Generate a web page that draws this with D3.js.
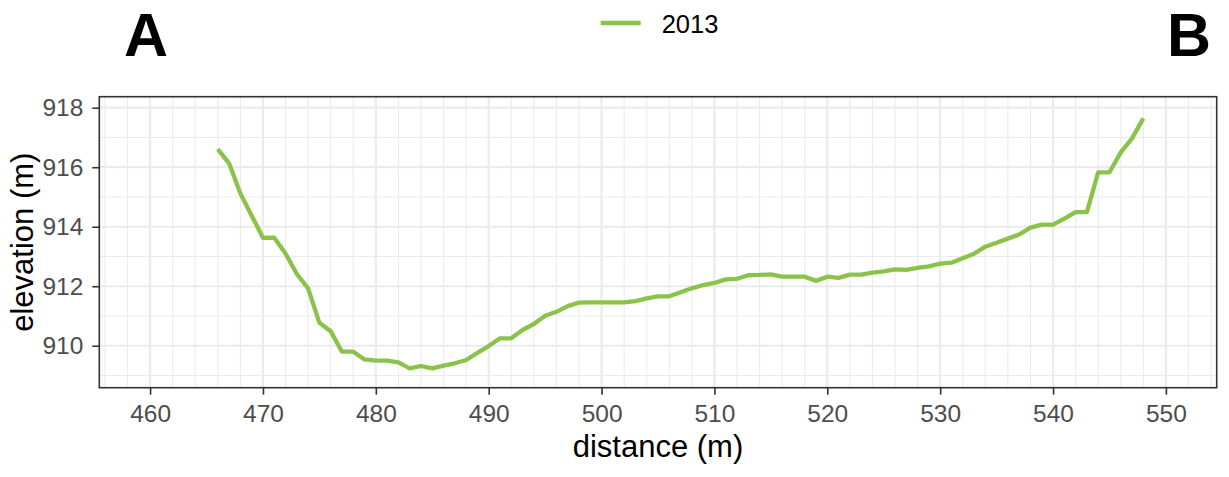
<!DOCTYPE html>
<html>
<head>
<meta charset="utf-8">
<script src="https://cdn.jsdelivr.net/npm/d3@7"></script>
<style>
  html, body { margin: 0; padding: 0; background: #fff; }
  svg { display: block; }
</style>
</head>
<body>
<svg id="chart" width="1229" height="477"></svg>
<script>
// ---- data ----
const seriesName = "2013";
const distance = [466,467,468,469,470,471,472,473,474,475,476,477,478,479,480,481,482,483,484,485,
  486,487,488,489,490,491,492,493,494,495,496,497,498,499,500,501,502,503,504,505,
  506,507,508,509,510,511,512,513,514,515,516,517,518,519,520,521,522,523,524,525,
  526,527,528,529,530,531,532,533,534,535,536,537,538,539,540,541,542,543,544,545,
  546,547,548];
const elevation = [916.61,916.13,915.12,914.37,913.63,913.63,913.10,912.41,911.93,910.77,
  910.49,909.80,909.80,909.54,909.50,909.50,909.44,909.24,909.32,909.24,
  909.33,909.41,909.52,909.76,909.99,910.25,910.25,910.53,910.73,911.01,
  911.14,911.33,911.45,911.46,911.46,911.46,911.46,911.50,911.59,911.66,
  911.66,911.80,911.93,912.04,912.11,912.23,912.25,912.37,912.38,912.40,
  912.32,912.32,912.32,912.18,912.32,912.28,912.39,912.39,912.46,912.50,
  912.57,912.55,912.62,912.67,912.76,912.79,912.94,913.09,913.33,913.46,
  913.60,913.74,913.97,914.07,914.07,914.27,914.49,914.49,915.83,915.83,
  916.50,916.97,917.64];
const xTicks = [460,470,480,490,500,510,520,530,540,550];
const xMinor = [456,458,462,464,466,468,472,474,476,478,482,484,486,488,492,494,496,498,
  502,504,506,508,512,514,516,518,522,524,526,528,532,534,536,538,542,544,546,548,552,554];
const yTicks = [910,912,914,916,918];
const yMinor = [909,911,913,915,917];
const xDomain = [455.5, 554.5];
const yDomain = [908.59, 918.37];
const xTitle = "distance (m)";
const yTitle = "elevation (m)";
const cornerLabels = ["A", "B"];

// ---- layout ----
const panel = { left: 99.3, right: 1216.7, top: 96.7, bottom: 387.7 };
const lineColor = "#8bc34a";
const font = "'Liberation Sans', Arial, sans-serif";

const svg = d3.select("#chart");
const x = d3.scaleLinear().domain(xDomain).range([panel.left, panel.right]);
const y = d3.scaleLinear().domain(yDomain).range([panel.bottom, panel.top]);

// panel background
svg.append("rect")
  .attr("x", panel.left).attr("y", panel.top)
  .attr("width", panel.right - panel.left).attr("height", panel.bottom - panel.top)
  .attr("fill", "#fff");

const grid = svg.append("g");
// minor grid
grid.selectAll("line.xmin").data(xMinor).join("line")
  .attr("x1", d => x(d)).attr("x2", d => x(d))
  .attr("y1", panel.top).attr("y2", panel.bottom)
  .attr("stroke", "#ebebeb").attr("stroke-width", 1.1);
grid.selectAll("line.ymin").data(yMinor).join("line")
  .attr("y1", d => y(d)).attr("y2", d => y(d))
  .attr("x1", panel.left).attr("x2", panel.right)
  .attr("stroke", "#ebebeb").attr("stroke-width", 1.1);
// major grid
grid.selectAll("line.xmaj").data(xTicks).join("line")
  .attr("x1", d => x(d)).attr("x2", d => x(d))
  .attr("y1", panel.top).attr("y2", panel.bottom)
  .attr("stroke", "#ebebeb").attr("stroke-width", 2.2);
grid.selectAll("line.ymaj").data(yTicks).join("line")
  .attr("y1", d => y(d)).attr("y2", d => y(d))
  .attr("x1", panel.left).attr("x2", panel.right)
  .attr("stroke", "#ebebeb").attr("stroke-width", 2.2);

// line
const pts = distance.map((d, i) => [d, elevation[i]]);
svg.append("path")
  .datum(pts)
  .attr("fill", "none")
  .attr("stroke", lineColor)
  .attr("stroke-width", 4.3)
  .attr("stroke-linejoin", "round")
  .attr("d", d3.line().x(d => x(d[0])).y(d => y(d[1])));

// panel border
svg.append("rect")
  .attr("x", panel.left).attr("y", panel.top)
  .attr("width", panel.right - panel.left).attr("height", panel.bottom - panel.top)
  .attr("fill", "none").attr("stroke", "#333").attr("stroke-width", 1.6);

// axes
const xAxis = svg.append("g")
  .attr("transform", `translate(0,${panel.bottom})`)
  .call(d3.axisBottom(x).tickValues(xTicks).tickSize(7).tickSizeOuter(0).tickPadding(10.2));
const yAxis = svg.append("g")
  .attr("transform", `translate(${panel.left},0)`)
  .call(d3.axisLeft(y).tickValues(yTicks).tickFormat(d3.format("d")).tickSize(7).tickSizeOuter(0).tickPadding(9));
[xAxis, yAxis].forEach(a => {
  a.select(".domain").remove();
  a.selectAll(".tick line").attr("stroke", "#333").attr("stroke-width", 1.6);
  a.selectAll(".tick text").attr("fill", "#4d4d4d")
    .style("font-family", font).style("font-size", "24.5px");
});

// axis titles
svg.append("text")
  .attr("x", (panel.left + panel.right) / 2).attr("y", 457.3)
  .attr("text-anchor", "middle")
  .style("font-family", font).style("font-size", "31px").attr("fill", "#000")
  .text(xTitle);
svg.append("text")
  .attr("transform", `translate(33.3,${(panel.top + panel.bottom) / 2}) rotate(-90)`)
  .attr("text-anchor", "middle")
  .style("font-family", font).style("font-size", "31px").attr("fill", "#000")
  .text(yTitle);

// legend
const legend = svg.append("g");
legend.append("line")
  .attr("x1", 600.7).attr("x2", 640.7).attr("y1", 23).attr("y2", 23)
  .attr("stroke", lineColor).attr("stroke-width", 4.5);
legend.append("text")
  .attr("x", 661.7).attr("y", 33.3)
  .style("font-family", font).style("font-size", "25.5px").attr("fill", "#000")
  .text(seriesName);

// corner labels
svg.append("text")
  .attr("x", 124).attr("y", 56)
  .style("font-family", font).style("font-size", "61px").style("font-weight", "bold")
  .attr("fill", "#000").text(cornerLabels[0]);
svg.append("text")
  .attr("x", 1211).attr("y", 56)
  .attr("text-anchor", "end")
  .style("font-family", font).style("font-size", "61px").style("font-weight", "bold")
  .attr("fill", "#000").text(cornerLabels[1]);
</script>
</body>
</html>
